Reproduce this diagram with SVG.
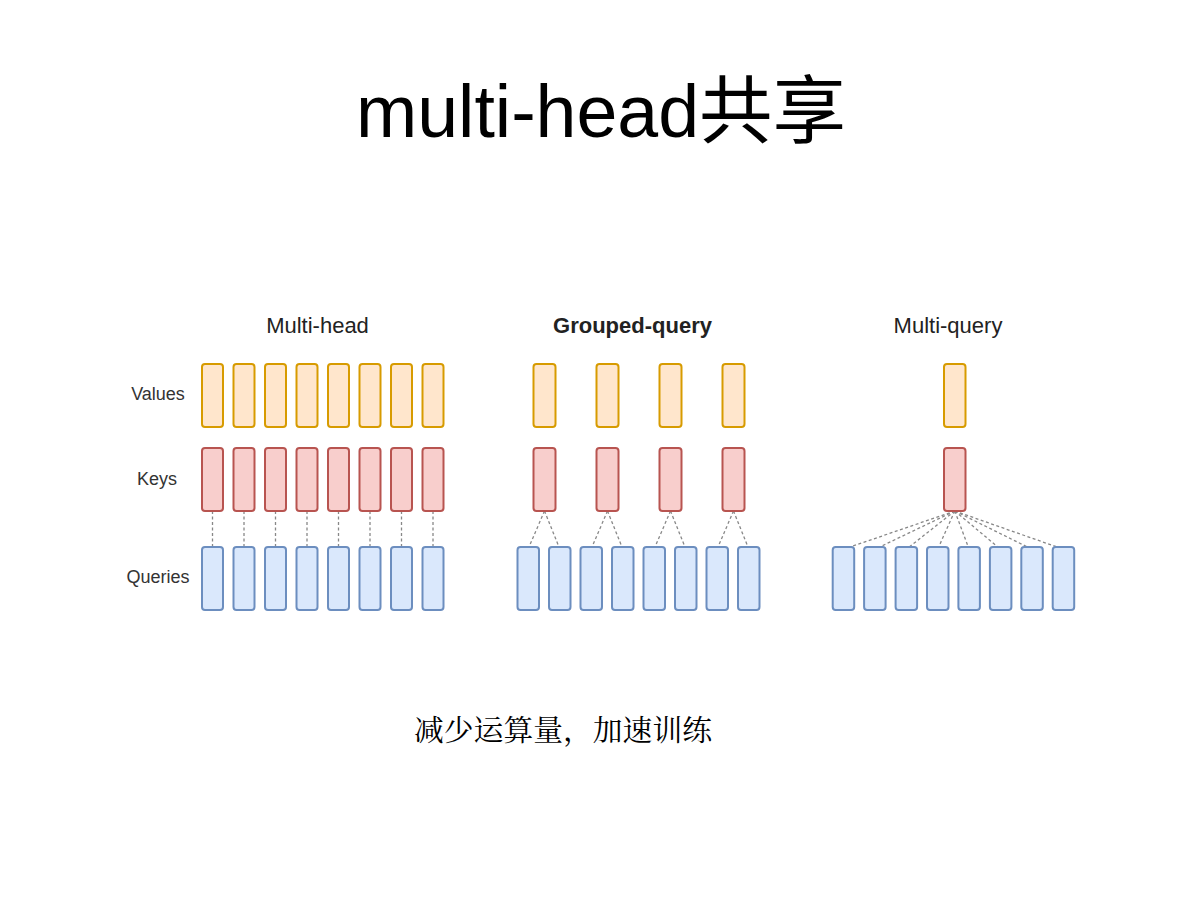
<svg xmlns="http://www.w3.org/2000/svg" width="1200" height="900" viewBox="0 0 1200 900">
<style>
.v{fill:#ffe6cc;stroke:#d79b00;stroke-width:2}
.k{fill:#f8cecc;stroke:#b85450;stroke-width:2}
.q{fill:#dae8fc;stroke:#6c8ebf;stroke-width:2}
.c{stroke:#888;stroke-width:1.3;stroke-dasharray:3 2.5;fill:none}
.lbl{font-family:"Liberation Sans",Arial,sans-serif;font-size:18px;fill:#333;text-anchor:middle}
.ttl{font-family:"Liberation Sans",Arial,sans-serif;font-size:22px;fill:#222;text-anchor:middle}
</style>
<rect width="1200" height="900" fill="#fff"/>
<text x="356" y="137" font-family="'Liberation Sans','Noto Sans CJK SC',sans-serif" font-size="74" fill="#000" textLength="490" lengthAdjust="spacingAndGlyphs">multi-head共享</text>

<g id="row-labels">
<text class="lbl" x="158" y="400">Values</text>
<text class="lbl" x="157" y="485">Keys</text>
<text class="lbl" x="158" y="583">Queries</text>
</g>
<g id="titles">
<text class="ttl" x="317.5" y="333">Multi-head</text>
<text class="ttl" x="632.5" y="333" font-weight="bold">Grouped-query</text>
<text class="ttl" x="948" y="333">Multi-query</text>
</g>

<g id="connectors">
<line class="c" x1="212.5" y1="511" x2="212.5" y2="547"/>
<line class="c" x1="244" y1="511" x2="244" y2="547"/>
<line class="c" x1="275.5" y1="511" x2="275.5" y2="547"/>
<line class="c" x1="307" y1="511" x2="307" y2="547"/>
<line class="c" x1="338.5" y1="511" x2="338.5" y2="547"/>
<line class="c" x1="370" y1="511" x2="370" y2="547"/>
<line class="c" x1="401.5" y1="511" x2="401.5" y2="547"/>
<line class="c" x1="433" y1="511" x2="433" y2="547"/>

<line class="c" x1="544.5" y1="511" x2="529" y2="547"/>
<line class="c" x1="544.5" y1="511" x2="559" y2="547"/>
<line class="c" x1="607.5" y1="511" x2="592" y2="547"/>
<line class="c" x1="607.5" y1="511" x2="622" y2="547"/>
<line class="c" x1="670.5" y1="511" x2="655" y2="547"/>
<line class="c" x1="670.5" y1="511" x2="685" y2="547"/>
<line class="c" x1="733.5" y1="511" x2="718" y2="547"/>
<line class="c" x1="733.5" y1="511" x2="748" y2="547"/>

<line class="c" x1="954.8" y1="511" x2="850.1" y2="547"/>
<line class="c" x1="954.8" y1="511" x2="879.7" y2="547"/>
<line class="c" x1="954.8" y1="511" x2="909.2" y2="547"/>
<line class="c" x1="954.8" y1="511" x2="938.7" y2="547"/>
<line class="c" x1="954.8" y1="511" x2="968.3" y2="547"/>
<line class="c" x1="954.8" y1="511" x2="997.9" y2="547"/>
<line class="c" x1="954.8" y1="511" x2="1027.4" y2="547"/>
<line class="c" x1="954.8" y1="511" x2="1057" y2="547"/>
</g>

<g id="multi-head">
<g id="mh-values">
<rect class="v" x="202" y="364" width="21" height="63" rx="3"/>
<rect class="v" x="233.5" y="364" width="21" height="63" rx="3"/>
<rect class="v" x="265" y="364" width="21" height="63" rx="3"/>
<rect class="v" x="296.5" y="364" width="21" height="63" rx="3"/>
<rect class="v" x="328" y="364" width="21" height="63" rx="3"/>
<rect class="v" x="359.5" y="364" width="21" height="63" rx="3"/>
<rect class="v" x="391" y="364" width="21" height="63" rx="3"/>
<rect class="v" x="422.5" y="364" width="21" height="63" rx="3"/>
</g>
<g id="mh-keys">
<rect class="k" x="202" y="448" width="21" height="63" rx="3"/>
<rect class="k" x="233.5" y="448" width="21" height="63" rx="3"/>
<rect class="k" x="265" y="448" width="21" height="63" rx="3"/>
<rect class="k" x="296.5" y="448" width="21" height="63" rx="3"/>
<rect class="k" x="328" y="448" width="21" height="63" rx="3"/>
<rect class="k" x="359.5" y="448" width="21" height="63" rx="3"/>
<rect class="k" x="391" y="448" width="21" height="63" rx="3"/>
<rect class="k" x="422.5" y="448" width="21" height="63" rx="3"/>
</g>
<g id="mh-queries">
<rect class="q" x="202" y="547" width="21" height="63" rx="3"/>
<rect class="q" x="233.5" y="547" width="21" height="63" rx="3"/>
<rect class="q" x="265" y="547" width="21" height="63" rx="3"/>
<rect class="q" x="296.5" y="547" width="21" height="63" rx="3"/>
<rect class="q" x="328" y="547" width="21" height="63" rx="3"/>
<rect class="q" x="359.5" y="547" width="21" height="63" rx="3"/>
<rect class="q" x="391" y="547" width="21" height="63" rx="3"/>
<rect class="q" x="422.5" y="547" width="21" height="63" rx="3"/>
</g>
</g>

<g id="grouped-query">
<g id="gq-values">
<rect class="v" x="533.5" y="364" width="22" height="63" rx="3"/>
<rect class="v" x="596.5" y="364" width="22" height="63" rx="3"/>
<rect class="v" x="659.5" y="364" width="22" height="63" rx="3"/>
<rect class="v" x="722.5" y="364" width="22" height="63" rx="3"/>
</g>
<g id="gq-keys">
<rect class="k" x="533.5" y="448" width="22" height="63" rx="3"/>
<rect class="k" x="596.5" y="448" width="22" height="63" rx="3"/>
<rect class="k" x="659.5" y="448" width="22" height="63" rx="3"/>
<rect class="k" x="722.5" y="448" width="22" height="63" rx="3"/>
</g>
<g id="gq-queries">
<rect class="q" x="517.5" y="547" width="21.5" height="63" rx="3"/>
<rect class="q" x="549" y="547" width="21.5" height="63" rx="3"/>
<rect class="q" x="580.5" y="547" width="21.5" height="63" rx="3"/>
<rect class="q" x="612" y="547" width="21.5" height="63" rx="3"/>
<rect class="q" x="643.5" y="547" width="21.5" height="63" rx="3"/>
<rect class="q" x="675" y="547" width="21.5" height="63" rx="3"/>
<rect class="q" x="706.5" y="547" width="21.5" height="63" rx="3"/>
<rect class="q" x="738" y="547" width="21.5" height="63" rx="3"/>
</g>
</g>

<g id="multi-query">
<g id="mq-values">
<rect class="v" x="944" y="364" width="21.5" height="63" rx="3"/>
</g>
<g id="mq-keys">
<rect class="k" x="944" y="448" width="21.5" height="63" rx="3"/>
</g>
<g id="mq-queries">
<rect class="q" x="832.7" y="547" width="21.5" height="63" rx="3"/>
<rect class="q" x="864.1" y="547" width="21.5" height="63" rx="3"/>
<rect class="q" x="895.6" y="547" width="21.5" height="63" rx="3"/>
<rect class="q" x="927" y="547" width="21.5" height="63" rx="3"/>
<rect class="q" x="958.4" y="547" width="21.5" height="63" rx="3"/>
<rect class="q" x="989.9" y="547" width="21.5" height="63" rx="3"/>
<rect class="q" x="1021.3" y="547" width="21.5" height="63" rx="3"/>
<rect class="q" x="1052.7" y="547" width="21.5" height="63" rx="3"/>
</g>
</g>

<text x="414" y="741" font-family="'Noto Serif CJK SC','Noto Sans CJK SC',serif" font-size="29" fill="#000" textLength="298" lengthAdjust="spacingAndGlyphs">减少运算量，加速训练</text>
</svg>
